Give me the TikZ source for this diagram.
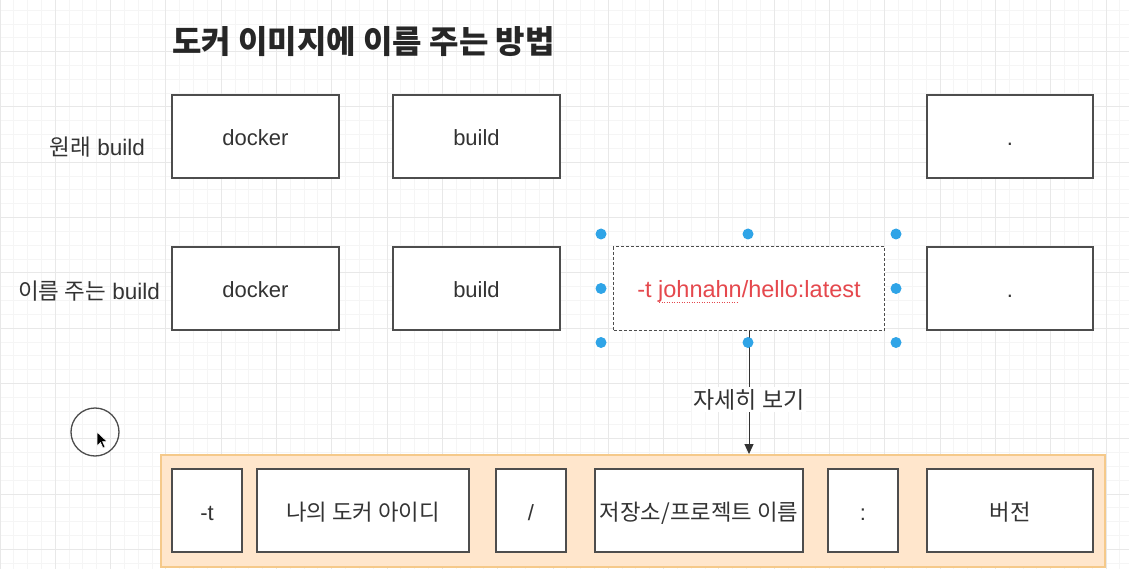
\documentclass[tikz,border=0pt]{standalone}
\usepackage{fontspec}
\setmainfont{Liberation Sans}
\newfontfamily\kr{Noto Sans CJK KR}
\usetikzlibrary{arrows.meta}
\definecolor{gridminor}{HTML}{F5F5F5}
\definecolor{gridmajor}{HTML}{E8E8E8}
\definecolor{boxline}{HTML}{4D4D4D}
\definecolor{txt}{HTML}{333333}
\definecolor{tagred}{HTML}{E5484D}
\definecolor{handleblue}{HTML}{2FA4E7}
\definecolor{orangefill}{HTML}{FFE6CC}
\definecolor{orangeline}{HTML}{F5C98A}

\begin{document}
\begin{tikzpicture}[x=1pt,y=-1pt,
        cell/.style={draw=boxline,line width=1.5pt,fill=white,minimum height=83pt,inner sep=0pt,text height=19pt,text depth=0pt,text=txt,font=\fontsize{22}{26}\selectfont},
        krcell/.style={cell,font=\kr\fontsize{22.3}{26}\selectfont},
        rowlabel/.style={text=txt,inner sep=0pt,font=\fontsize{22.5}{26}\selectfont},
        heading/.style={text=black!85,inner sep=0pt,font=\kr\bfseries\fontsize{32}{37}\selectfont},
        handle/.style={circle,fill=handleblue,minimum size=11pt,inner sep=0pt},
        container/.style={draw=orangeline,fill=orangefill,line width=1.5pt,inner sep=0pt},
        link/.style={draw=txt,line width=1pt,-{Triangle[length=10pt,width=9pt]}},
        note/.style={fill=white,text=txt,inner sep=2pt,font=\kr\fontsize{23}{27}\selectfont}]
    \fill[white] (0,0) rectangle (1129,569);
    \useasboundingbox (0,0) rectangle (1129,569);
    \foreach \i in {0,...,81} \draw[gridminor,line width=1pt] ({\i*13.825},0) -- ({\i*13.825},569);
    \foreach \j in {0,...,42} \draw[gridminor,line width=1pt] (0,{\j*13.825-3.6}) -- (1129,{\j*13.825-3.6});
    \foreach \i in {0,...,20} \draw[gridmajor,line width=1pt] ({\i*55.3},0) -- ({\i*55.3},569);
    \foreach \j in {0,...,10} \draw[gridmajor,line width=1pt] (0,{\j*55.3-3.6}) -- (1129,{\j*55.3-3.6});

    \node[heading,anchor=west] (title) at (172,42) {도커 이미지에 이름 주는 방법};

    \node[rowlabel,anchor=east] (plainlbl) at (145,147) {{\kr 원래} build};
    \node[cell,minimum width=167pt] (plaindocker) at (255.5,136.5) {docker};
    \node[cell,minimum width=167pt] (plainbuild) at (476.5,136.5) {build};
    \node[cell,minimum width=166pt] (plaindot) at (1010,136.5) {.};

    \node[rowlabel,anchor=east] (namedlbl) at (160,291) {{\kr 이름 주는} build};
    \node[cell,minimum width=167pt] (nameddocker) at (255.5,288.5) {docker};
    \node[cell,minimum width=167pt] (namedbuild) at (476.5,288.5) {build};
    \node[cell,minimum width=271pt,line width=1pt,dash pattern=on 3pt off 2pt,text=tagred,font=\fontsize{23.5}{28}\selectfont] (tag) at (749,288.5) {-t johnahn/hello:latest};
    \node[cell,minimum width=166pt] (nameddot) at (1010,288.5) {.};
    \draw[tagred,line width=1pt,dash pattern=on 1pt off 1.5pt] (659,302) -- (738,302);

    \node[container,minimum width=944pt,minimum height=112pt] (detail) at (633,510.8) {};
    \node[cell,minimum width=70pt] (flag) at (207,510.5) {-t};
    \node[krcell,minimum width=212pt] (userid) at (363,510.5) {나의 도커 아이디};
    \node[cell,minimum width=70pt] (slash) at (531,510.5) {/};
    \node[krcell,minimum width=208pt] (repo) at (699,510.5) {저장소/프로젝트 이름};
    \node[cell,minimum width=70pt] (colon) at (863,510.5) {:};
    \node[krcell,minimum width=166pt] (version) at (1010,510.5) {버전};

    \draw[link] (tag.south) -- node[note,pos=0.56] {자세히 보기} (tag.south |- detail.north);

    \foreach \hx/\hy [count=\k] in {601/234,748/234,896/234,601/288.5,896/288.5,601/342.5,748/342.5,896/342.5}
        \node[handle] (grip\k) at (\hx,\hy) {};

    \node[draw=boxline,line width=1.3pt,circle,minimum size=48pt,inner sep=0pt] (pointer) at (95,432) {};
    \fill[black,draw=white,line width=0.5pt] (97,432) -- (97,446) -- (100.5,442.5) -- (103,448) -- (105,447) -- (102.5,441.5) -- (107,441.5) -- cycle;
\end{tikzpicture}
\end{document}
